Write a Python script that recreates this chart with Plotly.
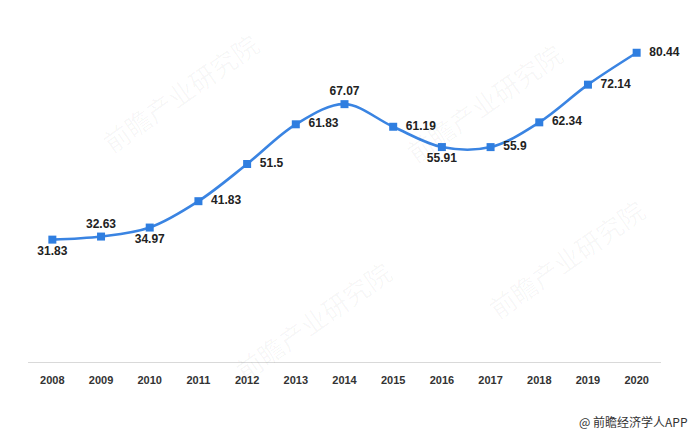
import plotly.graph_objects as go

years = ["2008", "2009", "2010", "2011", "2012", "2013", "2014", "2015", "2016", "2017", "2018", "2019", "2020"]
values = [31.83, 32.63, 34.97, 41.83, 51.5, 61.83, 67.07, 61.19, 55.91, 55.9, 62.34, 72.14, 80.44]
labels = ["31.83", "32.63", "34.97", "  41.83", "  51.5", "  61.83", "67.07", "  61.19", "55.91", "  55.9", "  62.34", "  72.14", "  80.44"]
label_pos = ["bottom center", "top center", "bottom center", "middle right", "middle right", "middle right",
             "top center", "middle right", "bottom center", "middle right", "middle right", "middle right", "middle right"]

fig = go.Figure()
fig.add_trace(go.Scatter(
    x=years, y=values,
    mode="lines+markers+text",
    line=dict(color="#3a84e2", width=2.6, shape="spline", smoothing=1.0),
    marker=dict(symbol="square", size=8, color="#2f7ee0"),
    text=["<b>" + t + "</b>" for t in labels], textposition=label_pos,
    textfont=dict(family="Liberation Sans, Arial", size=12, color="#222222"),
    cliponaxis=False, showlegend=False,
))

# faint watermarks
wm = [(0.24, 0.78), (0.72, 0.75), (0.45, 0.12), (0.85, 0.30)]
for (wx, wy) in wm:
    fig.add_annotation(xref="paper", yref="paper", x=wx, y=wy, text="前瞻产业研究院",
                       xanchor="center", yanchor="middle",
                       showarrow=False, textangle=-35,
                       font=dict(family="Noto Sans CJK SC", size=26, color="rgba(0,0,0,0.035)"))

fig.add_annotation(xref="paper", yref="paper", x=1.046, y=-0.173, xanchor="right", yanchor="middle",
                   text="@ 前瞻经济学人APP", showarrow=False,
                   font=dict(family="Noto Sans CJK SC", size=12, color="#333333"))

# page body has an 8px default margin, so the figure is sized 692x429
fig.update_layout(
    width=692, height=429,
    margin=dict(l=20, r=39, t=8, b=75, autoexpand=False),
    paper_bgcolor="white", plot_bgcolor="white",
    xaxis=dict(type="category", range=[-0.5, 12.5], showgrid=False, zeroline=False,
               showline=True, linecolor="#d9d9d9", linewidth=1, ticks="", automargin=False,
               tickfont=dict(family="Liberation Sans, Arial", size=11, color="#333333"),
               ticklabelstandoff=8, tickprefix="<b>", ticksuffix="</b>"),
    yaxis=dict(range=[0, 90], showgrid=False, zeroline=False, automargin=False,
               showticklabels=False, showline=False, ticks=""),
)

fig.write_html("out.html")
